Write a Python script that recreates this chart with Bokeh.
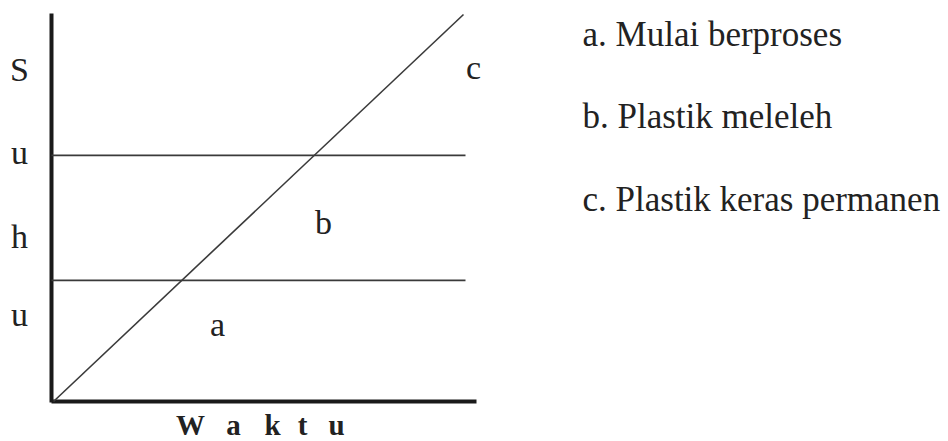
from bokeh.plotting import figure
from bokeh.models import Range1d
from bokeh.core.properties import value
from bokeh.embed import file_html
from bokeh.resources import INLINE

# ---- data ----
waktu = [0, 10]            # time axis (arbitrary units)
suhu = [0, 10]             # temperature rising linearly with time
batas_suhu = [3.13, 6.36]  # temperature thresholds between phases
sumbu_y_huruf = ["S", "u", "h", "u"]
sumbu_x_huruf = ["W", "a", "k", "t", "u"]
label_daerah = ["a", "b", "c"]
keterangan = ["a. Mulai berproses", "b. Plastik meleleh", "c. Plastik keras permanen"]

W, H = 948, 441
SX, SY = 41.0, 38.7      # px per data unit
OX, OY = 53, 401         # origin in canvas px (from top-left)
TSHIFT = 11              # baseline correction for text rendering

def dx(px):
    return (px - OX) / SX

def dy(py):
    return (OY - py) / SY

def ty(py):
    return dy(py - TSHIFT)

p = figure(width=W, height=H, output_backend="svg", toolbar_location=None,
           x_range=Range1d(-OX / SX, (W - OX) / SX),
           y_range=Range1d(-(H - OY) / SY, OY / SY),
           min_border=0, outline_line_color=None)
p.axis.visible = False
p.grid.visible = False
p.background_fill_color = "white"
p.border_fill_color = "white"

FONT = value("Liberation Serif")
TXT = "#222222"

# axes lines
p.line([dx(51), dx(51)], [dy(402), dy(13)], line_width=4, line_color="#1a1a1a")
p.line([dx(51), dx(476)], [dy(401), dy(401)], line_width=4, line_color="#1a1a1a")

# threshold lines
for b in batas_suhu:
    p.line([dx(51), dx(465)], [b, b], line_width=1.6, line_color="#3a3a3a")

# diagonal
p.line(waktu, suhu, line_width=1.6, line_color="#3a3a3a")

# y-axis letters
y_base = [80, 163, 247, 325]
p.text(x=[dx(19)] * 4, y=[ty(v) for v in y_base], text=sumbu_y_huruf,
       text_font=FONT, text_font_size="34px", text_color=TXT,
       text_align="center", text_baseline="alphabetic")

# x-axis letters
x_cent = [190, 233, 272, 302, 336]
p.text(x=[dx(v) for v in x_cent], y=[ty(435)] * 5, text=sumbu_x_huruf,
       text_font=FONT, text_font_size="29px", text_font_style="bold", text_color=TXT,
       text_align="center", text_baseline="alphabetic")

# region labels
rx = [217, 323, 473]
ry = [335, 233, 78]
p.text(x=[dx(v) for v in rx], y=[ty(v) for v in ry], text=label_daerah,
       text_font=FONT, text_font_size="34px", text_color=TXT,
       text_align="center", text_baseline="alphabetic")

# legend text
ly = [45, 127, 210]
p.text(x=[dx(582)] * 3, y=[ty(v) for v in ly], text=keterangan,
       text_font=FONT, text_font_size="35px", text_color=TXT,
       text_align="left", text_baseline="alphabetic")

open("out.html", "w").write(file_html(p, INLINE))
